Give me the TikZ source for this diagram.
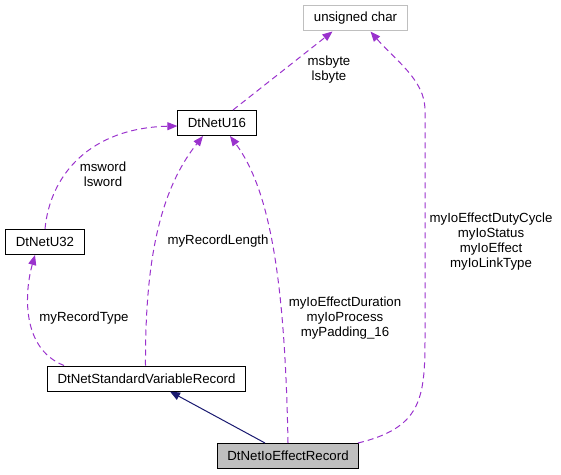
\documentclass[tikz,border=0pt]{standalone}
\usepackage{fontspec}
\setmainfont{Liberation Sans}
\usetikzlibrary{arrows.meta}
\definecolor{membercol}{HTML}{9A32CD}
\definecolor{basecol}{HTML}{191970}
\definecolor{boxgray}{HTML}{BFBFBF}
\tikzset{
	cls/.style={draw, line width=1bp, minimum height=25bp, inner xsep=10bp, font=\fontsize{13.3}{15}\selectfont},
	usage/.style={membercol, dash pattern=on 6bp off 4bp, line width=1bp, -{Triangle[length=10bp,width=8bp]}},
	inherit/.style={basecol, line width=1bp, -{Triangle[length=10bp,width=8bp]}},
	lbl/.style={align=center, inner sep=0pt, font=\fontsize{13.3}{15}\selectfont}
}
\begin{document}
\begin{tikzpicture}[x=1bp,y=-1bp]
		\useasboundingbox (0,0) rectangle (561,475);
		\node[cls, draw=boxgray] (uchar) at (355.5,18.5) {unsigned char};
		\node[cls] (u16) at (217,123) {DtNetU16};
		\node[cls] (u32) at (45,242) {DtNetU32};
		\node[cls] (svr) at (146.5,378.5) {DtNetStandardVariableRecord};
		\node[cls, fill=boxgray] (ioeff) at (288,456) {DtNetIoEffectRecord};
		
		\node[lbl] (lbyte) at (329,70) {msbyte\\lsbyte};
		\node[lbl] (lword) at (103,174) {msword\\lsword};
		\node[lbl] (ltype) at (84,318) {myRecordType};
		\node[lbl] (llength) at (218,241) {myRecordLength};
		\node[lbl] (lduration) at (345,318) {myIoEffectDuration\\myIoProcess\\myPadding\_16};
		\node[lbl] (lduty) at (491,241.5) {myIoEffectDutyCycle\\myIoStatus\\myIoEffect\\myIoLinkType};
	
		\draw[usage] ([xshift=16bp]u16.north) -- ([xshift=-23bp]uchar.south);
		\draw[usage] (u32.north) .. controls (50,175) and (90,128) .. ([yshift=-3bp]u16.west);
		\draw[usage] ([xshift=-82.5bp]svr.north) .. controls (20,348) and (25,290) .. ([xshift=-10bp]u32.south);
		\draw[usage] ([xshift=-1bp]svr.north) .. controls (145,260) and (160,190) .. ([xshift=-14bp]u16.south);
		\draw[usage] (ioeff.north) .. controls (285,280) and (270,190) .. ([xshift=13bp]u16.south);
		\draw[usage] ([xshift=70bp]ioeff.north) .. controls (420,428) and (425,400) .. (425,340) -- (425,110) .. controls (425,80) and (395,60) .. ([xshift=15bp]uchar.south);
		\draw[inherit] ([xshift=-23bp]ioeff.north) -- ([xshift=23.5bp]svr.south);
		\end{tikzpicture}
\end{document}
